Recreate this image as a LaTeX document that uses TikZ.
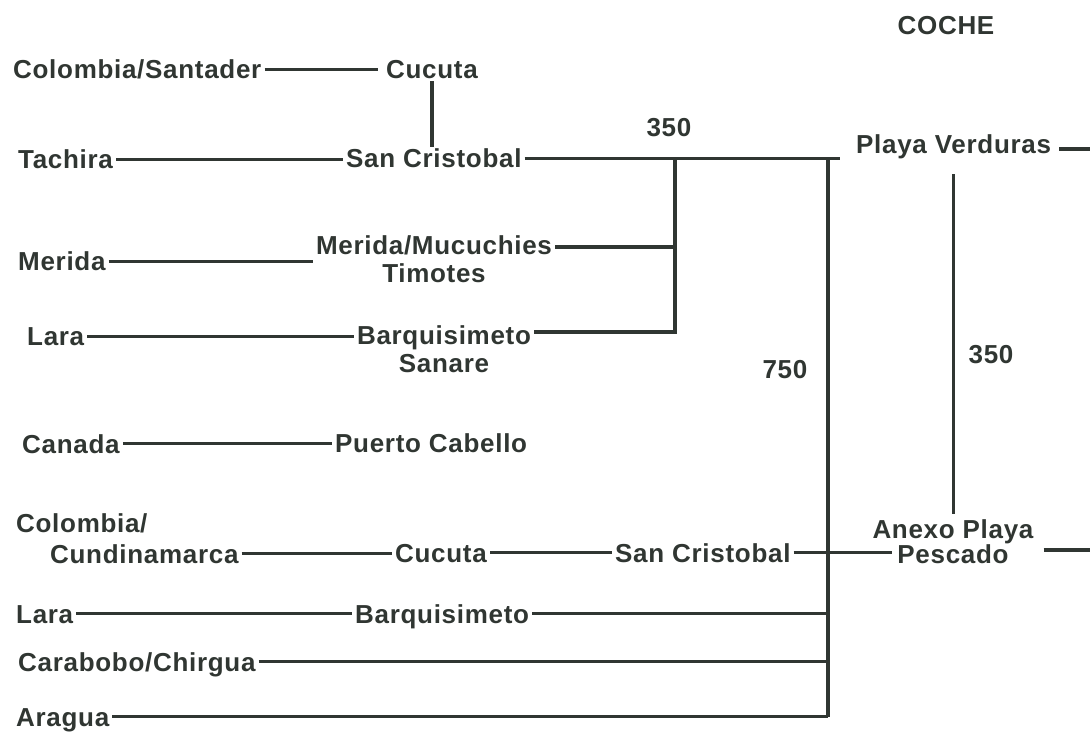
\documentclass[tikz,border=0pt]{standalone}
\usepackage{fontspec}
\setmainfont{Liberation Sans}[LetterSpace=2.7]
\definecolor{ink}{RGB}{48,54,50}
\begin{document}
\begin{tikzpicture}[x=1pt,y=-1pt,
  lbl/.style={font=\fontsize{26}{28}\selectfont\bfseries, text=ink, inner xsep=3pt, inner ysep=2pt, text height=19pt, text depth=0pt},
  lbl2/.style={font=\fontsize{26}{28}\selectfont\bfseries, text=ink, inner xsep=3pt, inner ysep=0pt, align=center},
  conn/.style={draw=ink, line width=3.2pt}]
\useasboundingbox (0,0) rectangle (1090,735);
% coordinates of trunks
\coordinate (xT) at (828,0);
\coordinate (x675) at (675,0);
\coordinate (xE) at (840,0);
\coordinate (r1) at (1090,149);
\coordinate (r2) at (1090,550);
\coordinate (yMM) at (0,247);
\coordinate (yBS) at (0,332);
% labels
\node[lbl, anchor=base] (coche) at (946,35) {COCHE};
\node[lbl, anchor=base west] (cs1) at (10,79) {Colombia/Santader};
\node[lbl, anchor=base west, inner xsep=8pt] (cuc1) at (378,79) {Cucuta};
\node[lbl, anchor=base west] (tach) at (15,169) {Tachira};
\node[lbl, anchor=base west] (sc1) at (343,168) {San Cristobal};
\node[lbl, anchor=base] (n350a) at (669,137) {350};
\node[lbl, anchor=base west, inner xsep=8pt] (pv) at (848,154) {Playa Verduras};
\node[lbl, anchor=base west] (mer) at (15,271) {Merida};
\node[lbl2] (mm) at (434,259.5) {Merida/Mucuchies\\Timotes};
\node[lbl, anchor=base west] (lara1) at (24,346) {Lara};
\node[lbl2] (bs) at (444,349.5) {Barquisimeto\\Sanare};
\node[lbl, anchor=base] (n750) at (785,378) {750};
\node[lbl, anchor=base] (n350b) at (991,363) {350};
\node[lbl, anchor=base west] (can) at (19,453) {Canada};
\node[lbl, anchor=base west] (pc) at (332,452) {Puerto Cabello};
\node[lbl, anchor=base west] (colA) at (13,532) {Colombia/};
\node[lbl, anchor=base west] (colB) at (47,563) {Cundinamarca};
\node[lbl, anchor=base west] (cuc2) at (392,562) {Cucuta};
\node[lbl, anchor=base west] (sc2) at (612,562) {San Cristobal};
\node[lbl2, font=\fontsize{26}{24}\selectfont\bfseries, inner xsep=-6pt] (apc) at (953,541.5) {Anexo Playa\\Pescado};
\node[lbl, anchor=base west] (lara2) at (13,623) {Lara};
\node[lbl, anchor=base west] (bq2) at (352,623) {Barquisimeto};
\node[lbl, anchor=base west] (cc) at (15,671) {Carabobo/Chirgua};
\node[lbl, anchor=base west] (ara) at (13,726) {Aragua};
% connectors
\draw[conn] (cs1.east) -- (cs1.east -| cuc1.west);
\draw[conn] (cuc1.south) -- (cuc1.south |- sc1.north);
\draw[conn] (tach.east) -- (tach.east -| sc1.west);
\draw[conn] (sc1.east) -- (sc1.east -| xE);
\draw[conn] (mer.east) -- (mer.east -| mm.west);
\draw[conn] (mm.east |- yMM) -- (x675 |- yMM);
\draw[conn] (lara1.east) -- (lara1.east -| bs.west);
\draw[conn] (bs.east |- yBS) -- (x675 |- yBS) -- (sc1.east -| x675);
\draw[conn] (can.east) -- (can.east -| pc.west);
\draw[conn] (colB.east) -- (colB.east -| cuc2.west);
\draw[conn] (cuc2.east) -- (cuc2.east -| sc2.west);
\draw[conn] (sc2.east) -- ([xshift=14pt]sc2.east -| apc.west);
\draw[conn] ([xshift=16pt]apc.east |- r2) -- (r2);
\draw[conn] (pv.east |- r1) -- (r1);
\draw[conn] ([yshift=-18pt]pv.south) -- ([yshift=5pt]pv.south |- apc.north);
\draw[conn] (lara2.east) -- (lara2.east -| bq2.west);
\draw[conn] (bq2.east) -- (bq2.east -| xT);
\draw[conn] (cc.east) -- (cc.east -| xT);
\draw[conn] (ara.east) -- (ara.east -| xT);
\draw[conn] (sc1.east -| xT) -- (ara.east -| xT);
\end{tikzpicture}
\end{document}
